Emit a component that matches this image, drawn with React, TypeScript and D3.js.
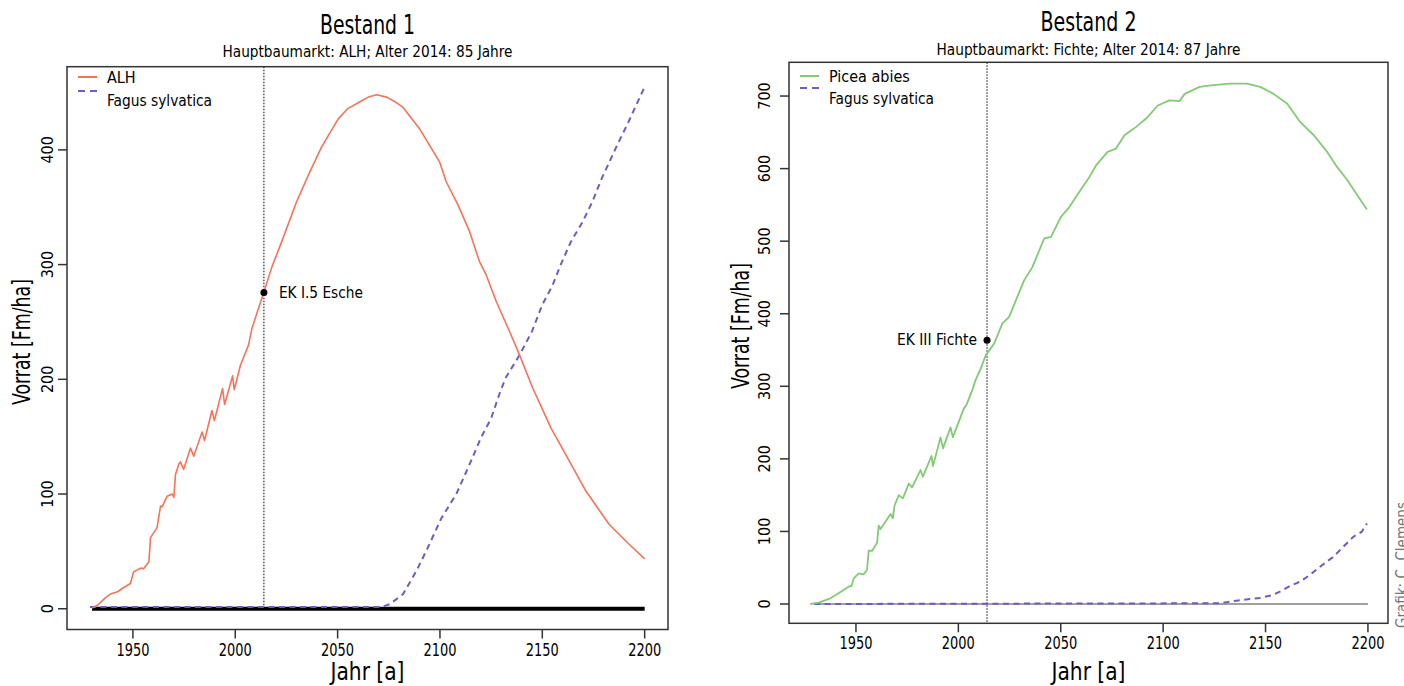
import * as d3 from 'd3';

// x axis ticks shared by both panels
const xTicks = [1950, 2000, 2050, 2100, 2150, 2200];

// Bestand 1 - ALH
const alhYears = [1930, 1933, 1936.5, 1939, 1942.5, 1945.5, 1948.8, 1950.3, 1953.7, 1955.3, 1957.8, 1958.6, 1961.8, 1963.5, 1964.3, 1966.7, 1969.2, 1970, 1970.8, 1972.4, 1973.2, 1974.8, 1978.1, 1979.7, 1983.8, 1985, 1988.6, 1989.8, 1993.8, 1994.8, 1998.7, 1999.5, 2002.5, 2006.5, 2008.1, 2011, 2014, 2017.9, 2022.7, 2030, 2036.5, 2042.2, 2050.3, 2055, 2060.9, 2065, 2069, 2074, 2078, 2082, 2090, 2099.8, 2103.1, 2108.8, 2114.5, 2119.3, 2122.6, 2127.5, 2134, 2138.8, 2145.3, 2154.2, 2163.2, 2171.3, 2182.6, 2192.4, 2200];
const alhValues = [0.5, 3.5, 9.5, 12.8, 14.8, 18.5, 22, 32, 35.4, 35, 41, 62, 70.7, 89.6, 89, 98, 100, 97, 117, 126, 128, 121.5, 140, 133, 154, 146.7, 172.8, 164, 192, 178, 203, 191, 212, 230, 244, 260, 276, 298, 320, 355, 381, 402.6, 427, 436, 442, 446, 448, 446, 442, 437, 418.5, 389.6, 372, 352, 328.7, 302.6, 291, 267.8, 241.7, 221.5, 192.4, 157.7, 128.7, 102.6, 73.6, 56.2, 43.5];

// Bestand 1 - Fagus sylvatica
const fagus1Years = [1929, 2070, 2073, 2075.5, 2082, 2088.5, 2094, 2100.7, 2108, 2114.5, 2120, 2125, 2129, 2132, 2139, 2145, 2150, 2155, 2159, 2164, 2169.6, 2174.5, 2179, 2186, 2192, 2200];
const fagus1Values = [1.5, 1.5, 2.5, 4, 12.8, 33, 53, 79, 100, 126, 149, 166, 187, 201, 221.5, 242, 265, 282, 300, 320, 337, 355, 375, 402, 424, 455];

// Bestand 2 - Picea abies
const piceaYears = [1927.7, 1931.8, 1937.5, 1941.5, 1946.4, 1947.8, 1948.9, 1951.3, 1953.7, 1955.4, 1956.2, 1957.9, 1960.3, 1961.1, 1962, 1966.9, 1968, 1968.8, 1970.9, 1972.9, 1975.8, 1977.4, 1981.5, 1982.7, 1986.9, 1987.6, 1991.3, 1992.5, 1996.2, 1997.3, 2002.7, 2003.9, 2006.8, 2008.4, 2011, 2013.4, 2017.5, 2021.5, 2024.8, 2032.1, 2036.2, 2041.9, 2045.2, 2050.1, 2054.2, 2059.1, 2064, 2067.3, 2072.9, 2077, 2081.1, 2086.8, 2091.7, 2097.4, 2103.1, 2108, 2110.5, 2117.8, 2124.4, 2132.6, 2140.8, 2147.4, 2153.9, 2160.5, 2167, 2173.6, 2180.1, 2185, 2190, 2194.9, 2199.5];
const piceaValues = [0, 1.8, 7.8, 14.7, 23.9, 24.8, 35.4, 42.3, 40.9, 46.8, 73.4, 73.4, 84.4, 107.9, 103.3, 124, 118, 135.4, 150, 145.6, 166, 160.7, 184.6, 175.4, 204, 190, 229.6, 214.5, 243.4, 229.6, 269.6, 274, 294.8, 308.5, 325, 343, 359, 386.6, 395.7, 446, 464.6, 503.7, 506, 533.6, 547, 568, 588.6, 604.7, 623, 627.6, 646, 657.5, 669, 687, 694, 693, 703, 712.6, 715, 717, 717, 712.6, 703, 689.6, 664, 646, 623, 602, 584, 563, 543.6];

// Bestand 2 - Fagus sylvatica
const fagus2Years = [1929.5, 2127.6, 2135.8, 2142.3, 2147.2, 2153, 2157, 2161.9, 2166.8, 2171.7, 2176.6, 2183.1, 2188, 2192.9, 2197, 2199.5];
const fagus2Values = [0, 1, 4.6, 6.9, 8.3, 12, 17, 24.8, 30.7, 40, 51.4, 65, 79, 92.7, 99.6, 111];

const FONT = '"Liberation Sans Narrow", "DejaVu Sans Condensed", "Arial Narrow", sans-serif';
const RED = '#F6735A';
const GREEN = '#82CB74';
const BLUE = '#6A5EC2';

const panels = [
  {
    title: 'Bestand 1',
    subtitle: 'Hauptbaumarkt: ALH; Alter 2014: 85 Jahre',
    titleY: 34, subY: 57, titleW: 95, subW: 290,
    box: { x0: 67, x1: 668, y0: 66.7, y1: 629.5 },
    xDomain: [1917.8, 2211.4],
    yDomain: [-18.1, 472.5],
    yTicks: [0, 100, 200, 300, 400],
    main: { name: 'ALH', years: alhYears, values: alhValues, color: RED, width: 1.6 },
    fagus: { years: fagus1Years, values: fagus1Values },
    zero: { from: 1930, to: 2200, width: 4, color: '#000' },
    ek: { year: 2014, value: 275.6, label: 'EK I.5 Esche', side: 'right' },
    dottedToZero: true,
    yLabelX: 30, yLabelY: 342,
    tickLabelX: 53,
    legendY: 77, legendDashY: 91, legendY2: 106,
  },
  {
    title: 'Bestand 2',
    subtitle: 'Hauptbaumarkt: Fichte; Alter 2014: 87 Jahre',
    titleY: 31, subY: 55, titleW: 96, subW: 304,
    box: { x0: 789, x1: 1388, y0: 62.3, y1: 623.3 },
    xDomain: [1917.3, 2209.8],
    yDomain: [-26.6, 746.5],
    yTicks: [0, 100, 200, 300, 400, 500, 600, 700],
    main: { name: 'Picea abies', years: piceaYears, values: piceaValues, color: GREEN, width: 1.8 },
    fagus: { years: fagus2Years, values: fagus2Values },
    zero: { from: 1929.5, to: 2200, width: 1.2, color: '#444' },
    ek: { year: 2014, value: 363.6, label: 'EK III Fichte', side: 'left' },
    dottedToZero: false,
    yLabelX: 749, yLabelY: 326,
    tickLabelX: 770,
    legendY: 76, legendDashY: 88, legendY2: 104,
  },
];

function Panel({ p }: { p: any }) {
  const { box } = p;
  const x = d3.scaleLinear().domain(p.xDomain).range([box.x0, box.x1]);
  const y = d3.scaleLinear().domain(p.yDomain).range([box.y1, box.y0]);
  const cx = (box.x0 + box.x1) / 2;

  const lineGen = d3.line<[number, number]>()
    .x((d) => x(d[0]))
    .y((d) => y(d[1]));
  const mainPath = lineGen(p.main.years.map((yr: number, i: number) => [yr, p.main.values[i]]));
  const fagusPath = lineGen(p.fagus.years.map((yr: number, i: number) => [yr, p.fagus.values[i]]));

  const lx = box.x0 + 11;

  return (
    <g fontFamily={FONT}>
      {/* titles */}
      <text x={cx} y={p.titleY} textAnchor="middle" fontSize={26}
        textLength={p.titleW} lengthAdjust="spacingAndGlyphs">{p.title}</text>
      <text x={cx} y={p.subY} textAnchor="middle" fontSize={15}
        textLength={p.subW} lengthAdjust="spacingAndGlyphs">{p.subtitle}</text>

      {/* zero reference line */}
      <line x1={x(p.zero.from)} x2={x(p.zero.to)} y1={y(0)} y2={y(0)}
        stroke={p.zero.color} strokeWidth={p.zero.width} />

      {/* 2014 marker */}
      <line x1={x(p.ek.year)} x2={x(p.ek.year)} y1={box.y0}
        y2={p.dottedToZero ? y(0) : box.y1}
        stroke="#000" strokeWidth={1} strokeDasharray="1.5,1.5" />

      <path d={fagusPath || ''} fill="none" stroke={BLUE} strokeWidth={2} strokeDasharray="6,4.5" />
      <path d={mainPath || ''} fill="none" stroke={p.main.color} strokeWidth={p.main.width} strokeLinejoin="round" />

      <circle cx={x(p.ek.year)} cy={y(p.ek.value)} r={3.5} fill="#000" />
      <text
        x={p.ek.side === 'right' ? x(p.ek.year) + 15 : x(p.ek.year) - 10}
        y={y(p.ek.value) + 5}
        textAnchor={p.ek.side === 'right' ? 'start' : 'end'}
        fontSize={16} textLength={p.ek.side === 'right' ? 84 : 80} lengthAdjust="spacingAndGlyphs">{p.ek.label}</text>

      {/* box */}
      <rect x={box.x0} y={box.y0} width={box.x1 - box.x0} height={box.y1 - box.y0}
        fill="none" stroke="#333" strokeWidth={1.5} />

      {/* x axis */}
      {xTicks.map((t) => (
        <g key={t}>
          <line x1={x(t)} x2={x(t)} y1={box.y1} y2={box.y1 + 9} stroke="#333" strokeWidth={1.5} />
          <text x={x(t)} y={box.y1 + 26} textAnchor="middle" fontSize={17}
            textLength={33} lengthAdjust="spacingAndGlyphs">{t}</text>
        </g>
      ))}
      <text x={cx} y={680} textAnchor="middle" fontSize={24}
        textLength={74} lengthAdjust="spacingAndGlyphs">Jahr [a]</text>

      {/* y axis */}
      {p.yTicks.map((t: number) => (
        <g key={t}>
          <line x1={box.x0 - 9} x2={box.x0} y1={y(t)} y2={y(t)} stroke="#333" strokeWidth={1.5} />
          <text transform={`translate(${p.tickLabelX},${y(t)}) rotate(-90)`} textAnchor="middle" fontSize={16}>{t}</text>
        </g>
      ))}
      <text transform={`translate(${p.yLabelX},${p.yLabelY}) rotate(-90)`} textAnchor="middle" fontSize={24}
        textLength={126} lengthAdjust="spacingAndGlyphs">Vorrat [Fm/ha]</text>

      {/* legend */}
      <line x1={lx} x2={lx + 19} y1={p.legendY} y2={p.legendY} stroke={p.main.color} strokeWidth={2} />
      <text x={lx + 29} y={p.legendY + 6} fontSize={16}>{p.main.name}</text>
      <line x1={lx} x2={lx + 19} y1={p.legendDashY} y2={p.legendDashY} stroke={BLUE} strokeWidth={2} strokeDasharray="7,5" />
      <text x={lx + 29} y={p.legendY2} fontSize={16} textLength={105} lengthAdjust="spacingAndGlyphs">Fagus sylvatica</text>
    </g>
  );
}

export default function App() {
  return (
    <svg width={1404} height={686} style={{ position: 'absolute', left: 0, top: 0, background: '#fff' }}>
      <rect width={1404} height={686} fill="#fff" />
      {panels.map((p) => <Panel key={p.title} p={p} />)}
      <text transform="translate(1407,628) rotate(-90)" fontFamily={FONT} fontSize={15} fill="#777">Grafik: C. Clemens</text>
    </svg>
  );
}
